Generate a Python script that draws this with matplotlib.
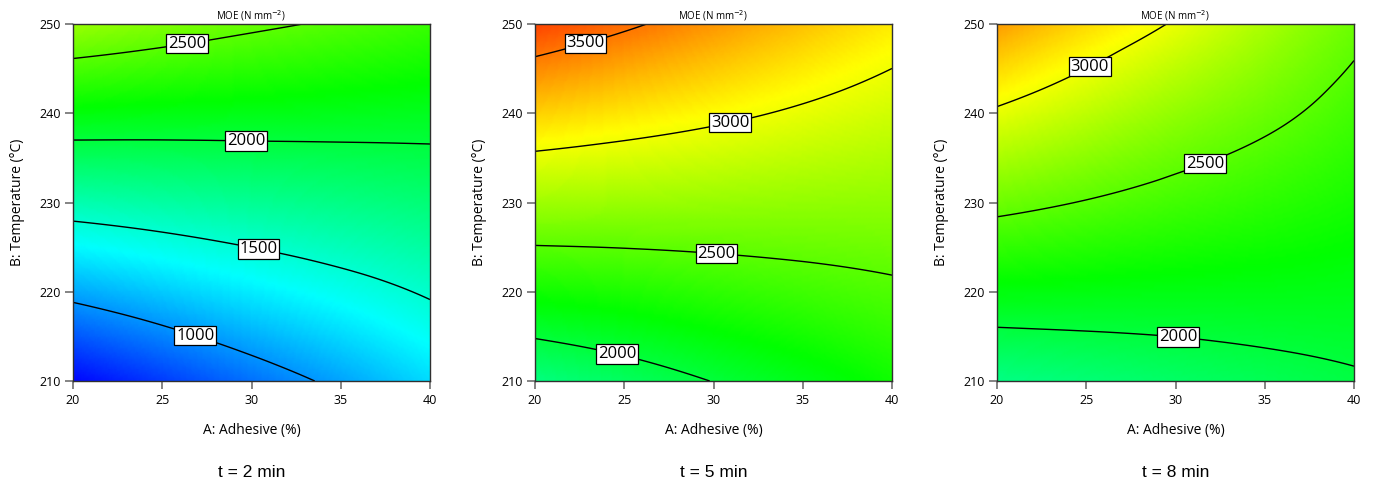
import numpy as np
import matplotlib
matplotlib.use("Agg")
import matplotlib.pyplot as plt
import matplotlib.tri as mtri
from matplotlib.colors import LinearSegmentedColormap

plt.rcParams['font.family'] = ['Open Sans', 'DejaVu Sans']

# design space
adhesive = [20, 25, 30, 35, 40]          # A: Adhesive (%)
temperature = [210, 220, 230, 240, 250]  # B: Temperature (C)

# MOE, rows = temperature, cols = adhesive
moe_t2 = [[520, 700, 880, 1050, 1235],
          [1065, 1180, 1295, 1405, 1525],
          [1615, 1660, 1710, 1760, 1810],
          [2165, 2145, 2130, 2115, 2100],
          [2710, 2625, 2540, 2470, 2385]]
moe_t5 = [[1775, 1885, 2005, 2120, 2245],
          [2250, 2295, 2350, 2405, 2460],
          [2730, 2715, 2700, 2685, 2675],
          [3200, 3125, 3050, 2970, 2890],
          [3675, 3535, 3395, 3250, 3110]]
moe_t8 = [[1760, 1810, 1865, 1920, 1975],
          [2160, 2150, 2140, 2135, 2125],
          [2565, 2490, 2415, 2345, 2270],
          [2970, 2830, 2685, 2555, 2415],
          [3375, 3170, 2980, 2765, 2560]]

times = ['t = 2 min', 't = 5 min', 't = 8 min']
levels = [[1000, 1500, 2000, 2500],
          [2000, 2500, 3000, 3500],
          [2000, 2500, 3000]]
label_pos = [[(27.0, 216.0), (30.5, 225.8), (29.7, 238.0), (26.3, 248.8)],
             [(24.7, 213.8), (30.2, 225.2), (30.8, 240.1), (22.7, 248.8)],
             [(30.2, 215.9), (31.5, 235.2), (25.0, 246.0)]]

# design-expert style colour ramp
cmap = LinearSegmentedColormap.from_list(
    'de', ['#0000ff', '#00ffff', '#00ff00', '#ffff00', '#ff0000'])
vmin, vmax = 500, 3900

fig = plt.figure(figsize=(13.73, 4.83), dpi=100)
lefts = [73, 535, 997]

AA, BB = np.meshgrid(adhesive, temperature)
tri = mtri.Triangulation(AA.ravel().astype(float), BB.ravel().astype(float))
refiner = mtri.UniformTriRefiner(tri)

for i, z in enumerate([moe_t2, moe_t5, moe_t8]):
    ax = fig.add_axes([lefts[i] / 1373, 1 - 381 / 483, 357 / 1373, 357 / 483])
    zf = np.array(z, dtype=float).ravel()
    tri_f, z_f = refiner.refine_field(zf, subdiv=5)
    ax.tripcolor(tri_f, z_f, shading='gouraud', cmap=cmap, vmin=vmin, vmax=vmax)
    cs = ax.tricontour(tri_f, z_f, levels=levels[i], colors='black', linewidths=1.0)
    labs = ax.clabel(cs, levels[i], inline=False, fmt='%d', fontsize=12,
                     manual=label_pos[i])
    for t in labs:
        t.set_rotation(0)
        t.set_family(['Open Sans', 'DejaVu Sans'])
        t.set_bbox(dict(facecolor='white', edgecolor='black', linewidth=0.9, pad=1.2))
        t.set_zorder(5)

    ax.set_xlim(20, 40)
    ax.set_ylim(210, 250)
    ax.set_xticks(adhesive)
    ax.set_yticks(temperature)
    ax.tick_params(direction='out', length=6, width=1.2, color='#707070',
                   labelsize=9, pad=3)
    for s in ax.spines.values():
        s.set_color('#303030')
        s.set_linewidth(1.0)
    ax.set_xlabel('A: Adhesive (%)', fontsize=10, labelpad=12)
    ax.set_ylabel('B: Temperature (\u00b0C)', fontsize=10, labelpad=10)
    ax.set_title('MOE (N mm$^{-2}$)', fontsize=7, pad=3)
    ax.text(0.5, -0.255, times[i], transform=ax.transAxes, ha='center', va='center',
            fontsize=12.5, family=['Liberation Sans', 'DejaVu Sans'])

fig.savefig('out.png', dpi=100)
